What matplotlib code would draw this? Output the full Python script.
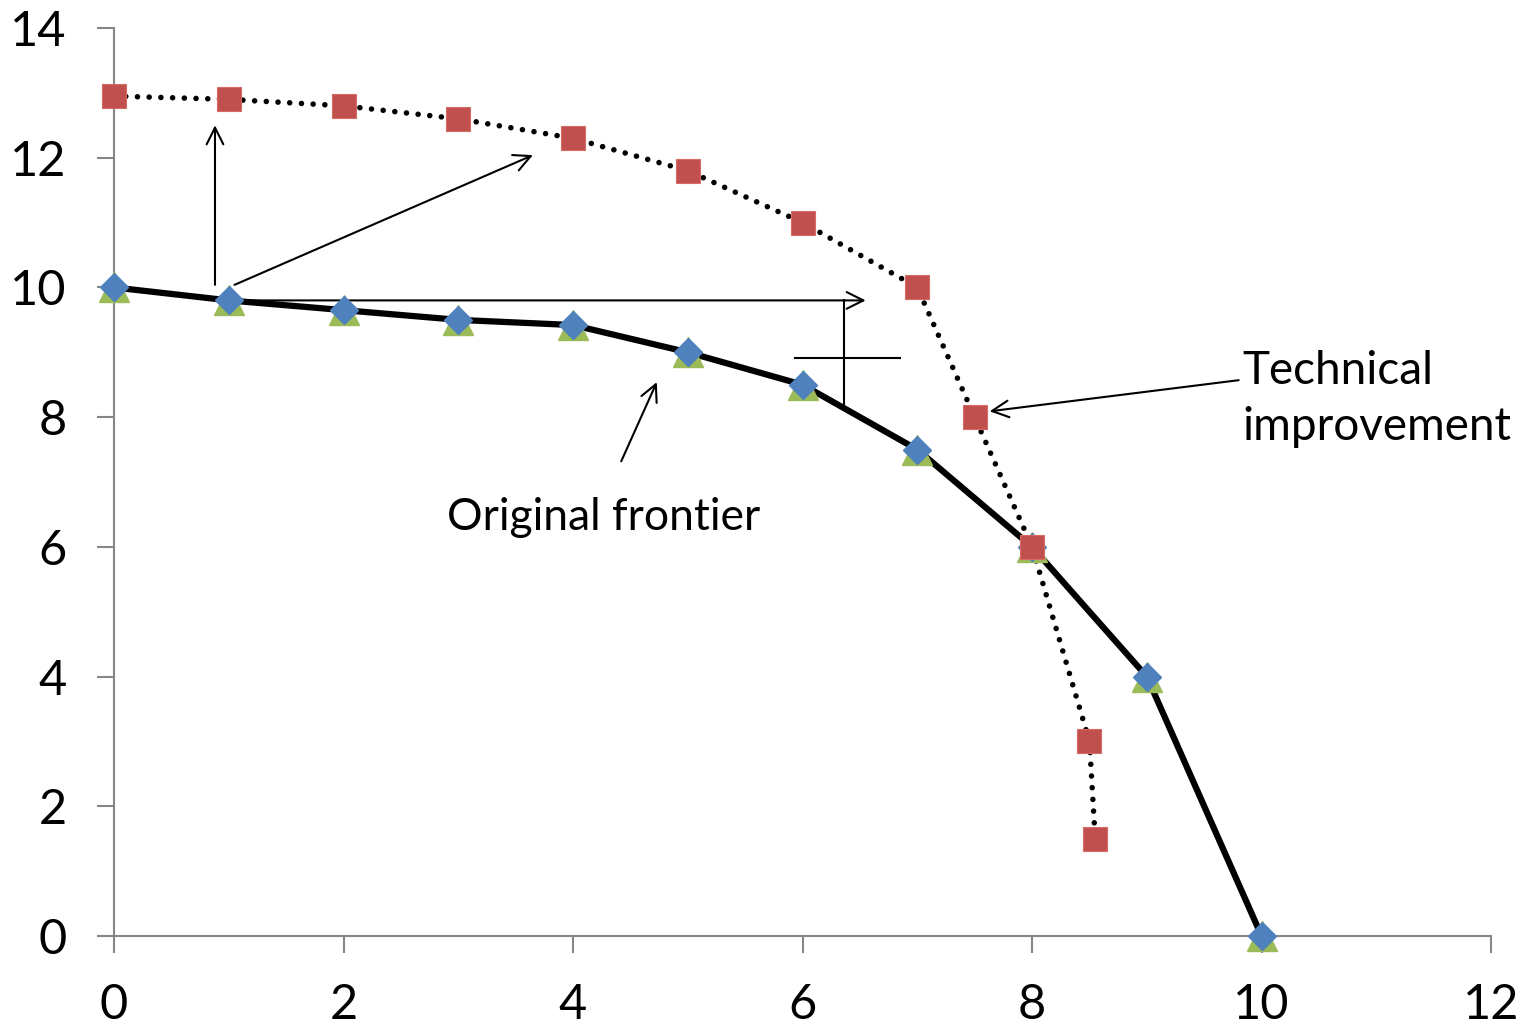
import matplotlib.pyplot as plt

plt.rcParams['font.family'] = ['Lato', 'DejaVu Sans']

# Production possibility frontiers
orig_x = [0, 1, 2, 3, 4, 5, 6, 7, 8, 9, 10]
orig_y = [10, 9.8, 9.65, 9.5, 9.42, 9, 8.5, 7.5, 6, 4, 0]

tech_x = [0, 1, 2, 3, 4, 5, 6, 7, 7.5, 8, 8.5, 8.55]
tech_y = [12.95, 12.9, 12.8, 12.6, 12.3, 11.8, 11, 10, 8, 6, 3, 1.5]

x_ticks = [0, 2, 4, 6, 8, 10, 12]
y_ticks = [0, 2, 4, 6, 8, 10, 12, 14]

fig = plt.figure(figsize=(15.2, 10.26), dpi=100)
ax = fig.add_axes([0.075, 0.0877, 0.906, 0.885])

# original frontier: green triangles under blue diamonds
ax.plot(orig_x, orig_y, color='black', lw=4.5, zorder=2)
ax.plot(orig_x, orig_y, ls='none', marker='^', ms=22, color='#9BBB59', zorder=3)
ax.plot(orig_x, orig_y, ls='none', marker='D', ms=14, color='#4F81BD', zorder=4)

# shifted frontier after technical improvement
ax.plot(tech_x, tech_y, color='black', lw=4, ls=(0, (0.01, 2.1)),
        dash_capstyle='round', zorder=2)
ax.plot(tech_x, tech_y, ls='none', marker='s', ms=17, color='#C0504D',
        markeredgecolor='#D86A66', markeredgewidth=0.8, zorder=5)

arrow = dict(arrowstyle='->', color='black', lw=1.5, mutation_scale=30,
             shrinkA=0, shrinkB=0)
ax.annotate('', xy=(0.88, 12.5), xytext=(0.88, 10.04), arrowprops=arrow)
ax.annotate('', xy=(3.65, 12.04), xytext=(1.05, 10.04), arrowprops=arrow)
ax.annotate('', xy=(6.55, 9.8), xytext=(1.0, 9.8), arrowprops=arrow)
ax.annotate('', xy=(4.73, 8.54), xytext=(4.42, 7.32), arrowprops=arrow)
ax.annotate('', xy=(7.63, 8.09), xytext=(9.8, 8.57), arrowprops=arrow)

# cross marker near the kink
ax.plot([6.36, 6.36], [9.8, 8.19], color='black', lw=1.5, zorder=1)
ax.plot([5.93, 6.85], [8.91, 8.91], color='black', lw=1.5, zorder=1)

ax.text(2.9, 6.45, 'Original frontier', fontsize=32, ha='left', va='center')
ax.text(9.83, 8.28, 'Technical\nimprovement', fontsize=33, ha='left',
        va='center', linespacing=1.42)

ax.set_xlim(0, 12)
ax.set_ylim(0, 14)
ax.set_xticks(x_ticks)
ax.set_yticks(y_ticks)
ax.tick_params(labelsize=35, length=12, width=1.5, color='#868686', pad=22)
for s in ['top', 'right']:
    ax.spines[s].set_visible(False)
for s in ['left', 'bottom']:
    ax.spines[s].set_color('#868686')
    ax.spines[s].set_linewidth(1.5)
for ln in ax.lines:
    ln.set_clip_on(False)

fig.savefig('out.png', dpi=100)
